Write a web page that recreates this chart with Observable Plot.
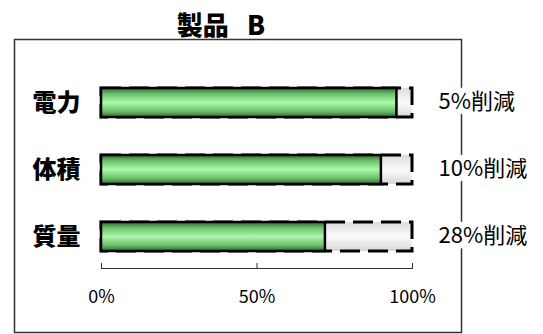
<!DOCTYPE html>
<html>
<head>
<meta charset="utf-8">
<script src="https://cdn.jsdelivr.net/npm/d3@7"></script>
<script src="https://cdn.jsdelivr.net/npm/@observablehq/plot@0.6"></script>
<style>
  html, body { margin: 0; padding: 0; background: #fff; }
  svg { font-family: "Noto Sans CJK JP", "Noto Sans", sans-serif; }
</style>
</head>
<body>
<div id="chart"></div>
<script>
const title = "製品\u2002\u2009B";
const categories = ["電力", "体積", "質量"];
const values = [95, 90, 72];
const reductionLabels = ["5%削減", "10%削減", "28%削減"];
const tickValues = [0, 50, 100];

const data = categories.map((c, i) => ({cat: c, value: values[i], label: reductionLabels[i]}));

const plot = Plot.plot({
  width: 543,
  height: 334,
  marginLeft: 101,
  marginRight: 131,
  marginTop: 49,
  marginBottom: 65,
  x: {domain: [0, 100], axis: null},
  y: {domain: categories, axis: null, paddingInner: 0.57, paddingOuter: 0.415, align: 0.6875},
  marks: [
    Plot.frame({insetLeft: -87, insetRight: -49, insetTop: -10, insetBottom: -63, stroke: "#333", strokeWidth: 1.5}),
    Plot.barX(data, {x1: d => 0, x2: d => 100, y: "cat", fill: "url(#gGrey)", stroke: "black", strokeWidth: 3, strokeDasharray: "20,8"}),
    Plot.barX(data, {x1: d => 0, x2: "value", y: "cat", fill: "url(#gGreen)", stroke: "black", strokeWidth: 2.5}),
    Plot.barX([0], {x1: d => 0, x2: d => 100, insetTop: 219, fill: "#333"}),
    Plot.ruleX(tickValues, {x: d => d, insetTop: 214, stroke: "#333", strokeWidth: 1}),
    Plot.text(tickValues, {x: d => d, frameAnchor: "bottom", dy: 33, text: d => d + "%", fontSize: 18, fill: "black"}),
    Plot.text(data, {y: "cat", frameAnchor: "left", dx: -21, textAnchor: "end", text: "cat", fontSize: 24, fontWeight: 900, fill: "black"}),
    Plot.text(data, {y: "cat", frameAnchor: "right", dx: 26, dy: -1, textAnchor: "start", text: "label", fontSize: 22, fill: "black", stroke: "white", strokeWidth: 12}),
    Plot.text([title], {frameAnchor: "top", dx: -36, dy: -33, text: d => d, fontSize: 26, fontWeight: 900, fill: "black"})
  ]
});

const defs = d3.select(plot).insert("defs", ":first-child");
const gg = defs.append("linearGradient").attr("id", "gGreen").attr("x1", 0).attr("y1", 0).attr("x2", 0).attr("y2", 1);
[[0, "#2e6a2e"], [0.2, "#6cc06c"], [0.5, "#acf8ac"], [0.8, "#6cc06c"], [1, "#2e6a2e"]]
  .forEach(([o, c]) => gg.append("stop").attr("offset", o).attr("stop-color", c));
const gr = defs.append("linearGradient").attr("id", "gGrey").attr("x1", 0).attr("y1", 0).attr("x2", 0).attr("y2", 1);
[[0, "#dcdcdc"], [0.45, "#f8f8f8"], [0.55, "#f8f8f8"], [1, "#d8d8d8"]]
  .forEach(([o, c]) => gr.append("stop").attr("offset", o).attr("stop-color", c));

document.getElementById("chart").appendChild(plot);
</script>
</body>
</html>
